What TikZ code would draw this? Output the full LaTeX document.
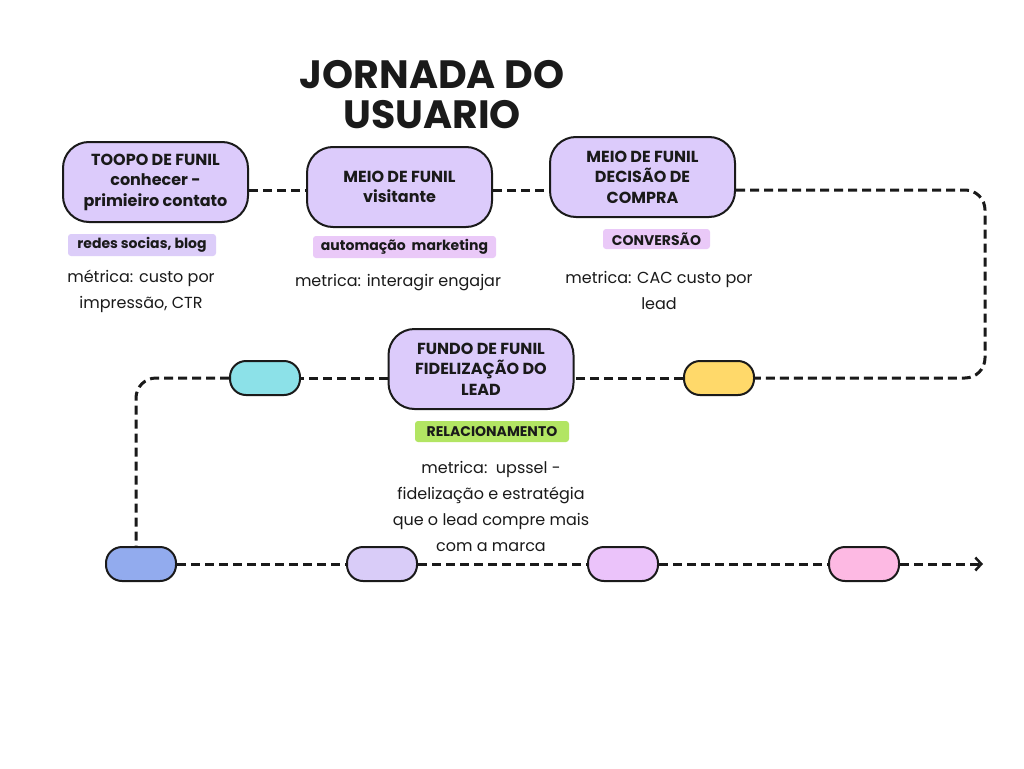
\documentclass[tikz,border=0pt]{standalone}
\usepackage{fontspec}
\setmainfont{Poppins}
\usetikzlibrary{arrows.meta}
\definecolor{nodefill}{HTML}{DCCBFB}
\definecolor{linec}{HTML}{1A1A1A}
\definecolor{cyanp}{HTML}{8CE1E8}
\definecolor{yellowp}{HTML}{FFD96A}
\definecolor{bluep}{HTML}{92ABEE}
\definecolor{lavp}{HTML}{D9CCF8}
\definecolor{purpp}{HTML}{EBC3FA}
\definecolor{pinkp}{HTML}{FDB9E3}
\definecolor{tagA}{HTML}{DCCDF9}
\definecolor{tagB}{HTML}{EAC9F8}
\definecolor{tagC}{HTML}{B2E563}
\tikzset{
  stage/.style={draw=linec, line width=2pt, fill=nodefill, rounded corners=26pt,
    minimum width=185pt, minimum height=80pt, inner sep=0pt, align=center,
    font=\fontsize{16}{20.5}\selectfont\bfseries, text=linec},
  pill/.style={draw=linec, line width=2pt, rounded corners=16pt,
    minimum width=70pt, minimum height=34pt, inner sep=0pt},
  tag/.style={rounded corners=3pt, inner sep=0pt, text=linec,
    font=\fontsize{14}{16}\selectfont\bfseries},
  body/.style={align=center, text=linec, inner sep=0pt,
    font=\fontsize{16}{26}\selectfont},
  conn/.style={draw=linec, line width=3pt, dash pattern=on 9pt off 5pt, rounded corners=20pt},
}
\begin{document}
\begin{tikzpicture}[x=1pt,y=-1pt]
\useasboundingbox[fill=white] (0,0) rectangle (1024,768);

% title
\node[align=center, text=linec, inner sep=0pt, font=\fontsize{39.5}{40}\selectfont\bfseries] (title) at (432,95) {JORNADA DO\\USUARIO};

% stages
\node[stage] (n1) at (155.5,182) {TOOPO DE FUNIL\\conhecer -\\primieiro contato};
\node[stage] (n2) at (399.5,187) {MEIO DE FUNIL\\visitante};
\node[stage] (n3) at (642.5,177) {MEIO DE FUNIL\\DECISÃO DE\\COMPRA};
\node[stage] (n4) at (481,369) {FUNDO DE FUNIL\\FIDELIZAÇÃO DO\\LEAD};

% pills
\node[pill, fill=cyanp] (cy) at (265,378) {};
\node[pill, fill=yellowp] (ye) at (719,378) {};
\node[pill, fill=bluep] (bl) at (141,564) {};
\node[pill, fill=lavp] (lv) at (382,564) {};
\node[pill, fill=purpp] (pu) at (623,564) {};
\node[pill, fill=pinkp] (pk) at (864,564) {};

% tags
\node[tag, fill=tagA, minimum width=148pt, minimum height=22pt] (t1) at (142,245) {redes socias, blog};
\node[tag, fill=tagB, minimum width=183pt, minimum height=22pt] (t2) at (404.5,247) {automação\ \ marketing};
\node[tag, fill=tagB, minimum width=107pt, minimum height=20pt] (t3) at (656.5,239) {CONVERSÃO};
\node[tag, fill=tagC, minimum width=154pt, minimum height=21pt] (t4) at (492,431.5) {RELACIONAMENTO};

% body texts
\node[body] (m1) at (141,291) {métrica: custo por\\impressão, CTR};
\node[body] (m2) at (398,283) {metrica: interagir engajar};
\node[body] (m3) at (659,290) {metrica: CAC custo por\\lead};
\node[body] (m4) at (491,506) {metrica:\ \ upssel -\\fidelização e estratégia\\que o lead compre mais\\com a marca};

% connector coordinates
\coordinate (tr) at (985,190);
\coordinate (br) at (985,378);
\coordinate (blc) at (136,378);
\coordinate (endp) at (983,564);

% connectors
\draw[conn] (n1.east |- tr) -- (n2.west |- tr);
\draw[conn] (n2.east |- tr) -- (n3.west |- tr);
\draw[conn] (n3.east |- tr) -- (tr) -- (br) -- (ye.east);
\draw[conn] (ye.west) -- (n4.east |- ye);
\draw[conn] (n4.west |- cy) -- (cy.east);
\draw[conn] (cy.west) -- (blc) -- (blc |- bl.north);
\draw[conn] (bl.east) -- (lv.west);
\draw[conn] (lv.east) -- (pu.west);
\draw[conn] (pu.east) -- (pk.west);
\draw[conn, -{Straight Barb[length=6pt,width=13pt,line width=2.5pt]}] (pk.east) -- (endp);
\end{tikzpicture}
\end{document}
